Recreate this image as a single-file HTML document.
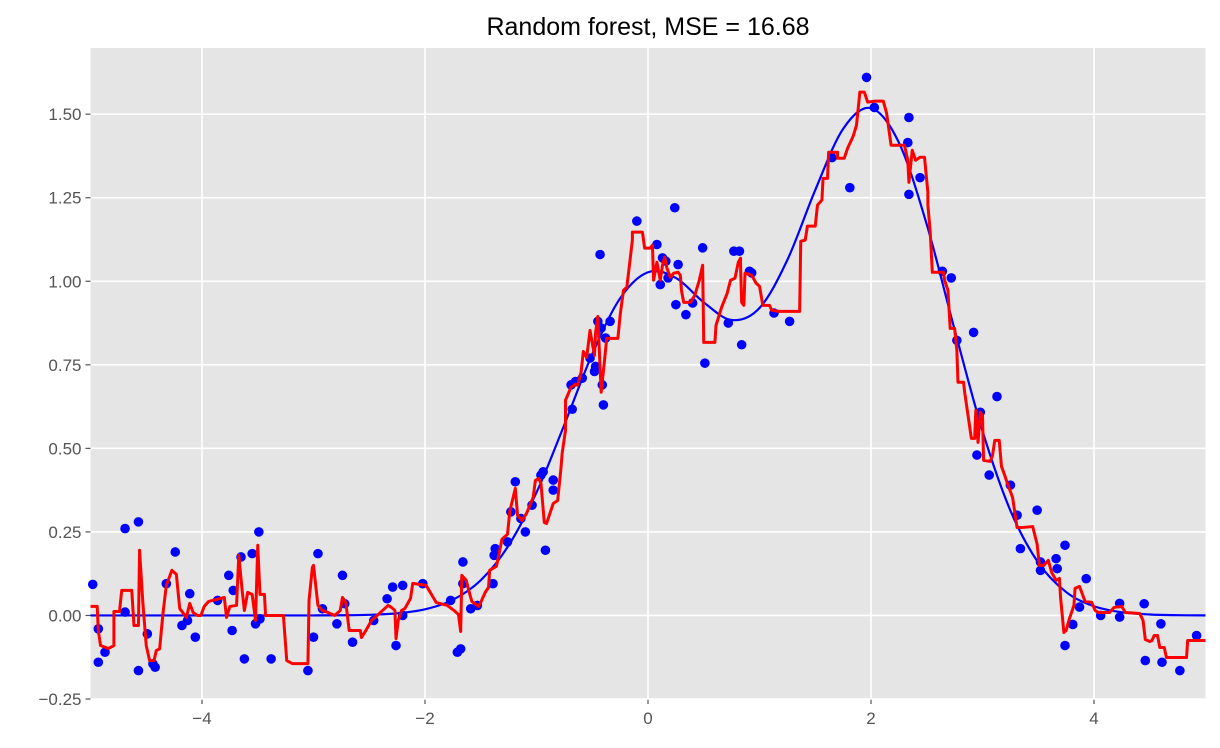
<!DOCTYPE html>
<html><head><meta charset="utf-8"><style>
body{margin:0;background:#fff;}
svg{display:block;font-family:"Liberation Sans","DejaVu Sans",sans-serif;}
</style></head><body>
<svg id="chart" width="1220" height="748" viewBox="0 0 1220 748">
<rect x="0" y="0" width="1220" height="748" fill="#fff"/>
<text x="648" y="35" text-anchor="middle" font-size="25" fill="#000">Random forest, MSE = 16.68</text>
<g id="plot"></g>
</svg>
<script>
const xTicks=[-4,-2,0,2,4];
const yTicks=[-0.25,0,0.25,0.5,0.75,1.0,1.25,1.5];
const xTickLabels=["−4","−2","0","2","4"];
const yTickLabels=["−0.25","0.00","0.25","0.50","0.75","1.00","1.25","1.50"];
const trueX=[-5,-4.75,-4.5,-4.25,-4,-3.75,-3.5,-3.25,-3,-2.75,-2.5,-2.25,-2,-1.75,-1.5,-1.25,-1,-0.75,-0.5,-0.25,0,0.25,0.5,0.75,1,1.25,1.5,1.75,2,2.25,2.5,2.75,3,3.25,3.5,3.75,4,4.25,4.5,4.75,5];
const trueY=[0,0,0,0,0,0,0,0,0.0001,0.0005,0.0019,0.0063,0.0183,0.0468,0.1054,0.2096,0.368,0.571,0.782,0.949,1.027,1.010,0.937,0.884,0.920,1.064,1.273,1.456,1.518,1.415,1.170,0.855,0.552,0.314,0.158,0.070,0.0275,0.0095,0.0029,0.0008,0.0002];
const sampleX=[-4.98,-4.93,-4.93,-4.87,-4.69,-4.69,-4.57,-4.57,-4.49,-4.44,-4.42,-4.32,-4.24,-4.18,-4.13,-4.11,-4.06,-3.86,-3.76,-3.73,-3.72,-3.65,-3.62,-3.55,-3.52,-3.49,-3.48,-3.38,-3.05,-3.0,-2.96,-2.92,-2.79,-2.74,-2.72,-2.65,-2.46,-2.34,-2.29,-2.26,-2.2,-2.2,-2.02,-1.77,-1.71,-1.68,-1.66,-1.66,-1.59,-1.53,-1.39,-1.38,-1.37,-1.26,-1.23,-1.19,-1.14,-1.10,-1.04,-0.96,-0.94,-0.92,-0.85,-0.85,-0.68,-0.69,-0.65,-0.59,-0.52,-0.48,-0.47,-0.45,-0.43,-0.42,-0.41,-0.40,-0.38,-0.34,-0.10,0.08,0.11,0.13,0.16,0.18,0.24,0.25,0.27,0.34,0.40,0.49,0.51,0.72,0.77,0.82,0.84,0.91,0.93,1.13,1.27,1.65,1.81,1.96,2.03,2.34,2.33,2.34,2.44,2.64,2.72,2.77,2.92,2.98,3.13,2.95,3.06,3.25,3.31,3.49,3.34,3.52,3.52,3.66,3.67,3.74,3.74,3.81,3.87,3.93,4.06,4.23,4.23,4.45,4.46,4.60,4.61,4.77,4.92];
const sampleY=[0.093,-0.04,-0.14,-0.11,0.26,0.01,0.28,-0.165,-0.055,-0.145,-0.155,0.095,0.19,-0.03,-0.015,0.065,-0.065,0.045,0.12,-0.045,0.075,0.175,-0.13,0.185,-0.025,0.25,-0.01,-0.13,-0.165,-0.065,0.185,0.02,-0.025,0.12,0.035,-0.08,-0.015,0.05,0.085,-0.09,0.09,0,0.095,0.045,-0.11,-0.10,0.16,0.095,0.02,0.03,0.095,0.18,0.2,0.22,0.31,0.40,0.29,0.25,0.33,0.42,0.43,0.195,0.405,0.375,0.617,0.69,0.70,0.71,0.77,0.73,0.745,0.88,1.08,0.86,0.69,0.63,0.83,0.88,1.18,1.11,0.99,1.07,1.06,1.01,1.22,0.93,1.05,0.90,0.935,1.10,0.755,0.875,1.09,1.09,0.81,1.03,1.025,0.905,0.88,1.37,1.28,1.61,1.52,1.49,1.415,1.26,1.31,1.03,1.01,0.823,0.847,0.608,0.655,0.48,0.42,0.39,0.30,0.315,0.20,0.16,0.135,0.17,0.14,0.21,-0.09,-0.027,0.025,0.11,0,0.036,-0.005,0.035,-0.135,-0.025,-0.14,-0.165,-0.06];
const predX=[-5.00,-4.94,-4.93,-4.91,-4.84,-4.79,-4.79,-4.74,-4.72,-4.63,-4.61,-4.57,-4.56,-4.53,-4.50,-4.47,-4.43,-4.41,-4.38,-4.35,-4.32,-4.27,-4.23,-4.20,-4.14,-4.11,-4.08,-4.04,-4.01,-3.98,-3.94,-3.87,-3.80,-3.78,-3.75,-3.69,-3.67,-3.64,-3.62,-3.59,-3.55,-3.52,-3.50,-3.48,-3.44,-3.43,-3.27,-3.24,-3.19,-3.05,-3.04,-3.01,-3.00,-2.96,-2.92,-2.87,-2.81,-2.76,-2.74,-2.71,-2.68,-2.58,-2.57,-2.53,-2.48,-2.42,-2.38,-2.33,-2.30,-2.27,-2.26,-2.24,-2.21,-2.18,-2.13,-2.11,-1.99,-1.90,-1.80,-1.74,-1.70,-1.68,-1.67,-1.63,-1.61,-1.58,-1.52,-1.50,-1.46,-1.43,-1.42,-1.36,-1.34,-1.31,-1.26,-1.24,-1.19,-1.17,-1.13,-1.09,-1.03,-1.01,-0.98,-0.96,-0.93,-0.91,-0.85,-0.81,-0.78,-0.77,-0.74,-0.74,-0.69,-0.65,-0.63,-0.60,-0.58,-0.55,-0.52,-0.48,-0.47,-0.45,-0.42,-0.39,-0.37,-0.27,-0.25,-0.22,-0.19,-0.14,-0.14,-0.05,-0.03,0.02,0.04,0.05,0.08,0.11,0.13,0.15,0.17,0.20,0.23,0.27,0.29,0.30,0.32,0.38,0.42,0.46,0.49,0.50,0.60,0.61,0.66,0.71,0.74,0.78,0.81,0.83,0.83,0.84,0.86,0.87,0.93,0.97,1.00,1.03,1.09,1.11,1.18,1.36,1.37,1.41,1.43,1.50,1.52,1.56,1.57,1.61,1.62,1.70,1.70,1.76,1.79,1.84,1.87,1.90,1.94,1.97,2.04,2.11,2.14,2.18,2.30,2.33,2.34,2.37,2.40,2.44,2.48,2.51,2.51,2.53,2.55,2.65,2.66,2.69,2.71,2.75,2.77,2.78,2.83,2.84,2.87,2.90,2.93,2.94,2.96,2.98,3.00,3.01,3.07,3.09,3.11,3.15,3.17,3.19,3.23,3.27,3.31,3.35,3.45,3.49,3.51,3.55,3.59,3.62,3.66,3.69,3.70,3.73,3.75,3.78,3.82,3.83,3.87,3.92,3.98,4.01,4.04,4.14,4.18,4.25,4.28,4.41,4.44,4.46,4.50,4.52,4.54,4.57,4.59,4.63,4.65,4.83,4.84,5.00];
const predY=[0.027,0.027,-0.045,-0.09,-0.099,-0.09,0.012,0.012,0.075,0.075,-0.03,-0.03,0.195,0.036,-0.09,-0.135,-0.135,-0.105,-0.10,0.006,0.09,0.135,0.123,0.021,-0.006,0.036,0.009,0,0,0.027,0.042,0.048,0.054,-0.006,0.027,0.03,0.18,0.075,0.015,0.069,0.063,-0.015,0.21,0.063,0.063,0,0,-0.135,-0.144,-0.144,0.045,0.144,0.15,0.03,0.015,0.009,0,0.015,0.054,0.039,-0.045,-0.045,-0.066,-0.045,-0.015,0.003,0.015,0.03,0.024,0.015,-0.069,-0.015,0.015,0.021,0.051,0.096,0.09,0.039,0.03,0.015,0.003,-0.048,0.12,0.105,0.078,0.042,0.027,0.039,0.069,0.084,0.135,0.147,0.177,0.228,0.243,0.311,0.38,0.30,0.284,0.305,0.353,0.404,0.41,0.395,0.278,0.275,0.335,0.344,0.443,0.485,0.554,0.644,0.683,0.692,0.689,0.728,0.79,0.772,0.853,0.778,0.847,0.895,0.668,0.763,0.829,0.829,0.898,0.973,0.982,1.123,1.147,1.147,1.099,1.099,1.108,1.003,1.057,1.003,1.048,1.072,1.039,1.012,1.024,1.027,1.018,0.973,0.937,0.937,0.958,1.003,1.048,0.817,0.817,0.868,0.922,0.964,1.003,1.009,1.057,1.069,1.048,0.937,0.928,1.024,1.018,0.994,0.985,0.928,0.928,0.913,0.91,0.91,1.12,1.123,1.165,1.165,1.228,1.243,1.308,1.308,1.386,1.386,1.368,1.368,1.398,1.434,1.467,1.566,1.566,1.536,1.539,1.539,1.503,1.407,1.407,1.362,1.296,1.392,1.362,1.371,1.371,1.266,1.228,1.153,1.027,1.027,1.003,0.973,0.859,0.859,0.793,0.698,0.698,0.668,0.599,0.53,0.53,0.614,0.518,0.608,0.599,0.464,0.461,0.479,0.524,0.524,0.446,0.428,0.389,0.353,0.263,0.263,0.266,0.213,0.15,0.15,0.165,0.129,0.105,0.111,0.054,-0.051,-0.045,-0.009,0.03,0.081,0.087,0.042,0.039,0.015,0.009,0.009,0.024,0.027,0.009,0.006,-0.015,-0.072,-0.078,-0.075,-0.06,-0.06,-0.096,-0.096,-0.126,-0.126,-0.075,-0.075];

const NS="http://www.w3.org/2000/svg";
const L=90.5,R=1205.5,T=48,B=699;
const xMin=-5,xMax=5,yMin=-0.25,yMax=1.698;
const sx=v=>L+(v-xMin)/(xMax-xMin)*(R-L);
const sy=v=>B-(v-yMin)/(yMax-yMin)*(B-T);
const plot=document.getElementById('plot');
function mk(tag,attrs,parent){const e=document.createElementNS(NS,tag);for(const k in attrs)e.setAttribute(k,attrs[k]);(parent||plot).appendChild(e);return e;}

const bg=mk('rect',{x:L,y:T,width:R-L,height:B-T,fill:'#e5e5e5'});


xTicks.forEach((t,i)=>{
  const g=mk('line',{x1:sx(t),x2:sx(t),y1:T,y2:B,stroke:'#fff','stroke-width':1.6});
  
  
  const tk=mk('line',{x1:sx(t),x2:sx(t),y1:B,y2:B+5,stroke:'#555','stroke-width':1.2});
  
  
  const tx=mk('text',{x:sx(t),y:B+25,'text-anchor':'middle','font-size':17,fill:'#555'});
  tx.textContent=xTickLabels[i];
  
  
});
yTicks.forEach((t,i)=>{
  const g=mk('line',{x1:L,x2:R,y1:sy(t),y2:sy(t),stroke:'#fff','stroke-width':1.6});
  
  
  const tk=mk('line',{x1:L-5,x2:L,y1:sy(t),y2:sy(t),stroke:'#555','stroke-width':1.2});
  
  
  const tx=mk('text',{x:L-9,y:sy(t)+6,'text-anchor':'end','font-size':17,fill:'#555'});
  tx.textContent=yTickLabels[i];
  
  
});
// true function curve (catmull-rom)
const pts=trueX.map((x,i)=>[sx(x),sy(trueY[i])]);
let d='M'+pts[0][0]+','+pts[0][1];
for(let i=0;i<pts.length-1;i++){
  const p0=pts[Math.max(0,i-1)],p1=pts[i],p2=pts[i+1],p3=pts[Math.min(pts.length-1,i+2)];
  const c1=[p1[0]+(p2[0]-p0[0])/6,p1[1]+(p2[1]-p0[1])/6];
  const c2=[p2[0]-(p3[0]-p1[0])/6,p2[1]-(p3[1]-p1[1])/6];
  d+='C'+c1[0]+','+c1[1]+' '+c2[0]+','+c2[1]+' '+p2[0]+','+p2[1];
}
const tl=mk('path',{d:d,fill:'none',stroke:'#0000ff','stroke-width':2.2});


sampleX.forEach((x,i)=>{
  const c=mk('circle',{cx:sx(x),cy:sy(sampleY[i]),r:4.8,fill:'#0000ff'});
  
  
});
const pd=predX.map((x,i)=>(i?'L':'M')+sx(x)+','+sy(predY[i])).join('');
const pl=mk('path',{d:pd,fill:'none',stroke:'#ff0000','stroke-width':3,'stroke-linejoin':'round'});


</script>
</body></html>
